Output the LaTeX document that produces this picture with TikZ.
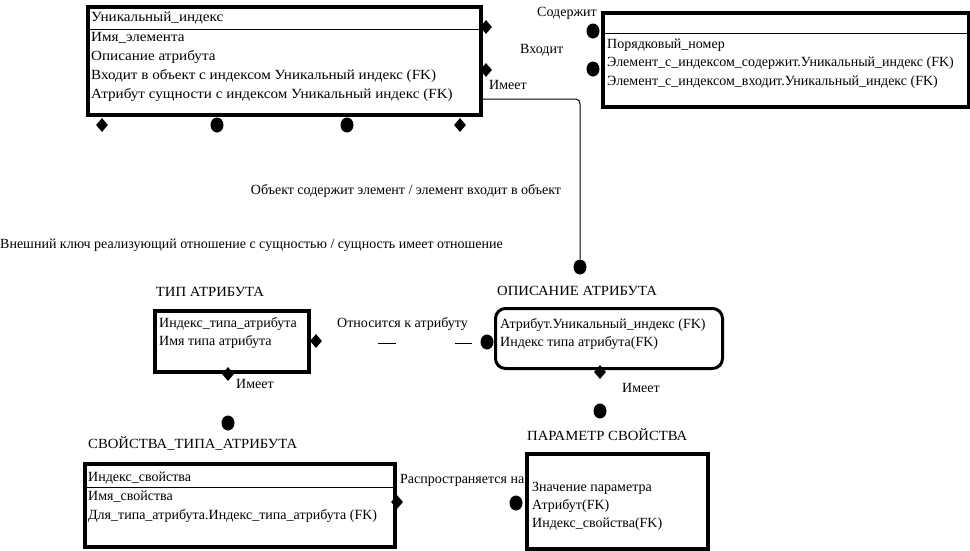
\documentclass[tikz,border=0pt]{standalone}
\usepackage{fontspec}
\setmainfont{Liberation Serif}
\newfontfamily\wideA[FakeStretch=1.08]{Liberation Serif}
\newfontfamily\wideB[FakeStretch=1.05]{Liberation Serif}
\usetikzlibrary{shapes.geometric}
\begin{document}
\begin{tikzpicture}[x=1pt,y=-1pt,
  entity/.style={draw, line width=3.5pt, inner sep=0pt, anchor=north west},
  rentity/.style={entity, rounded corners=10pt, line width=3pt},
  txt/.style={anchor=west, inner sep=0pt, font=\fontsize{14}{16}\selectfont},
  wtxt/.style={txt, font=\wideA\fontsize{14}{16}\selectfont},
  ttxt/.style={txt, font=\wideB\fontsize{14}{16}\selectfont},
  ctxt/.style={txt, anchor=center},
  dia/.style={diamond, fill=black, inner sep=0pt, minimum width=12pt, minimum height=14pt},
  dot/.style={ellipse, fill=black, inner sep=0pt, minimum width=13pt, minimum height=15pt},
  hline/.style={line width=1pt},
  conn/.style={line width=1pt}
]
\useasboundingbox (0,0) rectangle (970,550);

% Box 1
\node[entity, minimum width=393pt, minimum height=108pt] (e1) at (86,5) {};
\coordinate (e1h1) at (86,29); \coordinate (e1h2) at (479,29);
\draw[hline] (e1h1) -- (e1h2);
\node[wtxt] (t11) at (91,18) {Уникальный\_индекс};
\node[wtxt] (t12) at (91,38) {Имя\_элемента};
\node[wtxt] (t13) at (91,57) {Описание атрибута};
\node[wtxt] (t14) at (91,76) {Входит в объект с индексом Уникальный индекс (FK)};
\node[wtxt] (t15) at (91,95) {Атрибут сущности с индексом Уникальный индекс (FK)};
\node[dia] (d11) at (486,27) {};
\node[dia] (d12) at (486,70) {};
\node[dia] (d13) at (102,125) {};
\node[dot] (o11) at (217,125) {};
\node[dot] (o12) at (347,125) {};
\node[dia] (d14) at (460,125) {};

% Box 2
\node[entity, minimum width=366pt, minimum height=94pt] (e2) at (601,11) {};
\coordinate (e2h1) at (601,33); \coordinate (e2h2) at (967,33);
\draw[hline] (e2h1) -- (e2h2);
\node[txt] (t21) at (607,45) {Порядковый\_номер};
\node[txt] (t22) at (607,63) {Элемент\_с\_индексом\_содержит.Уникальный\_индекс (FK)};
\node[txt] (t23) at (607,82) {Элемент\_с\_индексом\_входит.Уникальный\_индекс (FK)};
\node[dot] (o21) at (593,31) {};
\node[dot] (o22) at (593,69) {};

\node[txt, anchor=east] (lsod) at (597,13) {Содержит};
\node[txt] (lvh) at (520,50) {Входит};
\node[txt] (lim1) at (489,85) {Имеет};

% main connector
\node[dot] (o3) at (580,267) {};
\coordinate (c1) at (479,99);
\coordinate (c2) at (576,99);
\coordinate (c3) at (580,104);
\draw[conn] (c1) -- (c2) to[out=0,in=90] (c3) -- (o3.north);

\node[ctxt] (lobj) at (406,191) {Объект содержит элемент / элемент входит в объект};
\node[txt] (lvk) at (0,245) {Внешний ключ реализующий отношение с сущностью / сущность имеет отношение};

% Box 3
\node[ttxt, anchor=center] (ti3) at (210,292) {ТИП АТРИБУТА};
\node[entity, minimum width=154pt, minimum height=61pt] (e3) at (153,309) {};
\node[txt] (t31) at (159,324) {Индекс\_типа\_атрибута};
\node[txt] (t32) at (159,342) {Имя типа атрибута};
\node[dia] (d31) at (316,341) {};
\node[dia] (d32) at (228,374) {};
\node[txt] (lim3) at (236,384) {Имеет};
\node[dot] (o31) at (228,423) {};

\node[txt] (lotn) at (337,324) {Относится к атрибуту};
\coordinate (s1a) at (378,343); \coordinate (s1b) at (396,343);
\coordinate (s2a) at (455,343); \coordinate (s2b) at (472,343);
\draw[conn] (s1a) -- (s1b);
\draw[conn] (s2a) -- (s2b);

% Box 4
\node[ttxt] (ti4) at (497,291) {ОПИСАНИЕ АТРИБУТА};
\node[rentity, minimum width=227pt, minimum height=60pt] (e4) at (494,307) {};
\node[txt] (t41) at (500,325) {Атрибут.Уникальный\_индекс (FK)};
\node[txt] (t42) at (500,343) {Индекс типа атрибута(FK)};
\node[dot] (o41) at (487,342) {};
\node[dia] (d41) at (600,372) {};
\node[txt] (lim4) at (622,388) {Имеет};
\node[dot] (o42) at (600,411) {};

% Box 6
\node[ttxt] (ti6) at (527,435) {ПАРАМЕТР СВОЙСТВА};
\node[entity, minimum width=181pt, minimum height=95pt] (e6) at (525,452) {};
\node[txt] (t61) at (532,488) {Значение параметра};
\node[txt] (t62) at (532,506) {Атрибут(FK)};
\node[txt] (t63) at (532,524) {Индекс\_свойства(FK)};
\node[dot] (o61) at (516,503) {};

% Box 5
\node[ttxt] (ti5) at (88,443) {СВОЙСТВА\_ТИПА\_АТРИБУТА};
\node[entity, minimum width=310pt, minimum height=83pt] (e5) at (83,462) {};
\coordinate (e5h1) at (83,487); \coordinate (e5h2) at (393,487);
\draw[hline] (e5h1) -- (e5h2);
\node[txt] (t51) at (88,478) {Индекс\_свойства};
\node[txt] (t52) at (88,497) {Имя\_свойства};
\node[txt] (t53) at (88,516) {Для\_типа\_атрибута.Индекс\_типа\_атрибута (FK)};
\node[dia] (d51) at (397,502) {};
\node[txt] (lras) at (400,480) {Распространяется на};
\end{tikzpicture}
\end{document}
